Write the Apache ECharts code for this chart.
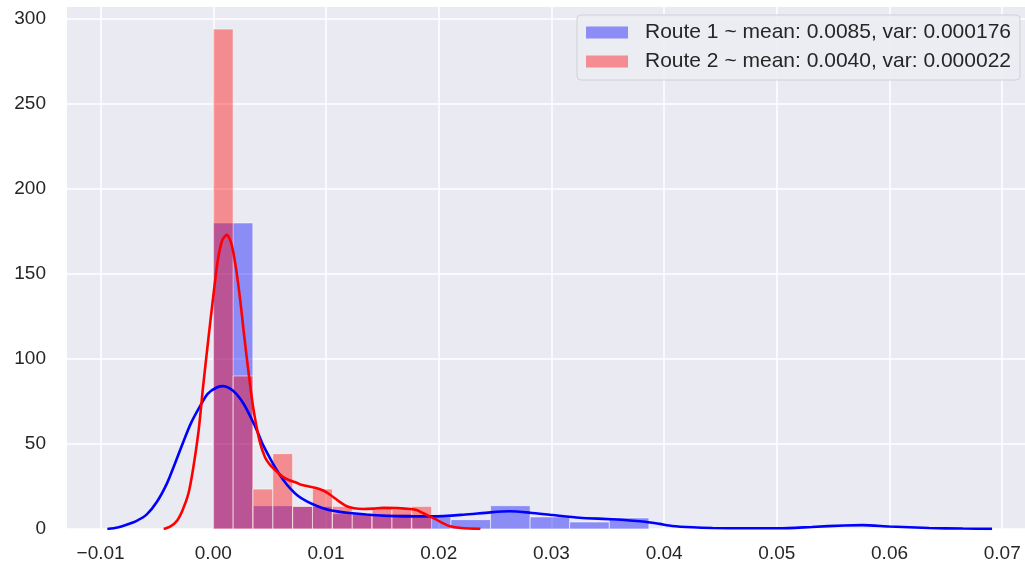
<!DOCTYPE html>
<html>
<head>
<meta charset="utf-8">
<script src="https://cdn.jsdelivr.net/npm/echarts@6/dist/echarts.min.js"></script>
<style>
html,body{margin:0;padding:0;background:#ffffff;}
#chart{width:1025px;height:569px;}
</style>
</head>
<body>
<div id="chart"></div>
<script>
// ---- data ----
var route1Label = 'Route 1 ~ mean: 0.0085, var: 0.000176';
var route2Label = 'Route 2 ~ mean: 0.0040, var: 0.000022';

var route1BinEdges = [0, 0.00351, 0.00703, 0.01054, 0.01405, 0.01757, 0.02108, 0.02460, 0.02811, 0.03162, 0.03514, 0.03865];
var route1Density  = [180, 13.7, 13.3, 9.0, 9.0, 7.0, 5.5, 13.7, 7.1, 4.1, 6.5];

var route2BinEdges = [0, 0.00176, 0.00352, 0.00528, 0.00704, 0.00880, 0.01057, 0.01233, 0.01409, 0.01585, 0.01761, 0.01937];
var route2Density  = [294, 90, 23.5, 44.3, 13.3, 23.5, 13.3, 9.0, 12.4, 11.4, 13.3];

var route1KdeX = [-0.0094, -0.0085, -0.0077, -0.0068, -0.0059, -0.0050, -0.0041, -0.0034, -0.0027, -0.0020, -0.0012, -0.0005, 0.0003, 0.0009, 0.0015, 0.0021, 0.0027, 0.0033, 0.0039, 0.0044, 0.0050, 0.0056, 0.0062, 0.0068, 0.0075, 0.0083, 0.0092, 0.0101, 0.0111, 0.0121, 0.0136, 0.0151, 0.0173, 0.0195, 0.0222, 0.0246, 0.0263, 0.0281, 0.0301, 0.0325, 0.0354, 0.0381, 0.0396, 0.0407, 0.0425, 0.0443, 0.0472, 0.0502, 0.0531, 0.0560, 0.0576, 0.0600, 0.0635, 0.0665, 0.0691];
var route1KdeY = [0, 0.9, 2.5, 4.8, 8.6, 16, 27, 38.5, 50.6, 62, 72, 79.5, 83.2, 84, 82.5, 79, 73.5, 66, 57.5, 49.6, 42, 35, 29, 24, 19.5, 16.2, 13.5, 11.4, 10.2, 9.4, 8.5, 7.8, 7.4, 7.4, 8.4, 9.8, 10.4, 9.6, 8.2, 6.6, 5.7, 4.4, 3.0, 1.8, 1.0, 0.6, 0.4, 0.4, 1.2, 2.1, 2.3, 1.5, 0.6, 0.25, 0.1];

var route2KdeX = [-0.0044, -0.0038, -0.0032, -0.0027, -0.0022, -0.0018, -0.0013, -0.0009, -0.0004, 0.0000, 0.0004, 0.0008, 0.0012, 0.0016, 0.0020, 0.0024, 0.0027, 0.0030, 0.0033, 0.0036, 0.0041, 0.0046, 0.0050, 0.0056, 0.0062, 0.0068, 0.0073, 0.0078, 0.0085, 0.0092, 0.0098, 0.0104, 0.0111, 0.0118, 0.0125, 0.0133, 0.0142, 0.0151, 0.0163, 0.0175, 0.0181, 0.0186, 0.0192, 0.0198, 0.0204, 0.0210, 0.0220, 0.0237];
var route2KdeY = [0, 1.5, 5, 11.4, 21, 35, 58, 84, 114, 137, 158, 170, 173, 168, 154, 134, 116, 99, 83, 69, 52, 42, 38, 34, 30.5, 28.5, 27.5, 26, 25, 24, 22.5, 20, 16.5, 13.5, 12.2, 11.8, 12.0, 12.4, 12.3, 11.8, 11.0, 9.4, 7.4, 5.5, 3.3, 1.6, 0.6, 0.1];

var xTickValues = [-0.01, 0, 0.01, 0.02, 0.03, 0.04, 0.05, 0.06, 0.07];
var yTickValues = [0, 50, 100, 150, 200, 250, 300];

// ---- build ----
function histData(edges, dens) {
  var out = [];
  for (var i = 0; i < dens.length; i++) out.push([edges[i], edges[i + 1], dens[i]]);
  return out;
}
function pairs(xs, ys) {
  var out = [];
  for (var i = 0; i < xs.length; i++) out.push([xs[i], ys[i]]);
  return out;
}
function histRender(fill) {
  return function (params, api) {
    var p0 = api.coord([api.value(0), api.value(2)]);
    var p1 = api.coord([api.value(1), 0]);
    return {
      type: 'rect',
      shape: { x: p0[0], y: p0[1], width: p1[0] - p0[0], height: p1[1] - p0[1] },
      style: { fill: fill, stroke: 'rgba(255,255,255,0.55)', lineWidth: 1 }
    };
  };
}

var FONT = 'Liberation Sans, Arial, sans-serif';
var TXT = '#262626';
var blueFill = 'rgba(0,0,255,0.4)';
var redFill = 'rgba(255,0,0,0.4)';

var chart = echarts.init(document.getElementById('chart'), null, { renderer: 'canvas' });
chart.setOption({
  animation: false,
  backgroundColor: '#ffffff',
  grid: {
    left: 67, right: 0, top: 7, bottom: 40,
    show: true, backgroundColor: '#EAEAF2', borderWidth: 0
  },
  legend: {
    data: [
      { name: route1Label, icon: 'rect', itemStyle: { color: blueFill } },
      { name: route2Label, icon: 'rect', itemStyle: { color: redFill } }
    ],
    orient: 'vertical',
    left: 577, top: 15,
    padding: [7, 9, 8, 9],
    itemWidth: 42, itemHeight: 12, itemGap: 8,
    backgroundColor: 'rgba(236,236,243,0.9)',
    borderColor: '#d0d0d6', borderWidth: 1, borderRadius: 4,
    textStyle: { fontFamily: FONT, fontSize: 21, color: TXT, padding: [0, 0, 0, 12] },
    selectedMode: false
  },
  xAxis: {
    type: 'value',
    min: -0.01298, max: 0.07202,
    axisLine: { show: false },
    axisTick: { show: false, customValues: xTickValues },
    axisLabel: {
      customValues: xTickValues,
      fontFamily: FONT, fontSize: 19, color: TXT, margin: 15,
      formatter: function (v) {
        var s = Math.abs(v).toFixed(2);
        return v < -1e-9 ? '\u2212' + s : s;
      }
    },
    splitLine: { show: true, lineStyle: { color: '#ffffff', width: 1.5 } }
  },
  yAxis: {
    type: 'value',
    min: 0, max: 307,
    axisLine: { show: false },
    axisTick: { show: false, customValues: yTickValues },
    axisLabel: {
      customValues: yTickValues,
      fontFamily: FONT, fontSize: 19, color: TXT, margin: 21
    },
    splitLine: { show: true, lineStyle: { color: '#ffffff', width: 1.5 } }
  },
  series: [
    {
      name: route1Label, type: 'custom',
      renderItem: histRender(blueFill),
      itemStyle: { color: blueFill },
      encode: { x: [0, 1], y: 2 },
      data: histData(route1BinEdges, route1Density)
    },
    {
      name: 'kde1', type: 'line', showSymbol: false, smooth: 0.25,
      lineStyle: { color: '#0000ff', width: 2.6 }, itemStyle: { color: '#0000ff' },
      data: pairs(route1KdeX, route1KdeY)
    },
    {
      name: route2Label, type: 'custom',
      renderItem: histRender(redFill),
      itemStyle: { color: redFill },
      encode: { x: [0, 1], y: 2 },
      data: histData(route2BinEdges, route2Density)
    },
    {
      name: 'kde2', type: 'line', showSymbol: false, smooth: 0.25,
      lineStyle: { color: '#ff0000', width: 2.6 }, itemStyle: { color: '#ff0000' },
      data: pairs(route2KdeX, route2KdeY)
    }
  ]
});
</script>
</body>
</html>
